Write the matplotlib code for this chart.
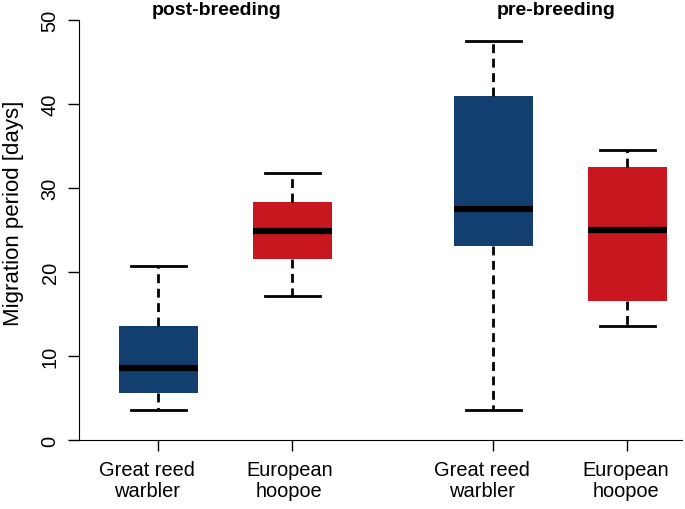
import matplotlib
matplotlib.use("Agg")
import matplotlib.pyplot as plt

plt.rcParams['font.family'] = ['Liberation Sans', 'DejaVu Sans']

labels = ["Great reed\nwarbler", "European\nhoopoe", "Great reed\nwarbler", "European\nhoopoe"]
positions = [1, 2, 3.5, 4.5]
label_shift = [-0.08, -0.02, -0.08, -0.01]
colors = ["#123f70", "#c8171f", "#123f70", "#c8171f"]

whislo = [3.6, 17.1, 3.6, 13.6]
q1 = [5.6, 21.5, 23.1, 16.5]
med = [8.6, 24.9, 27.5, 25.0]
q3 = [13.6, 28.3, 41.0, 32.5]
whishi = [20.7, 31.8, 47.5, 34.5]

stats = []
for i in range(4):
    stats.append(dict(whislo=whislo[i], q1=q1[i], med=med[i], q3=q3[i],
                      whishi=whishi[i], fliers=[]))

fig = plt.figure(figsize=(6.85, 5.1), dpi=100)
ax = fig.add_axes([0.1153, 0.1353, 0.8803, 0.8235])

bp = ax.bxp(stats, positions=positions, widths=0.59, patch_artist=True,
            showfliers=False,
            whiskerprops=dict(linestyle=(0, (3.2, 2)), linewidth=2, color="black"),
            capprops=dict(linewidth=2, color="black"),
            medianprops=dict(linewidth=4.5, color="black", solid_capstyle="butt"),
            boxprops=dict(linewidth=0))
for cap in bp['caps']:
    x0, x1 = cap.get_xdata()
    c = (x0 + x1) / 2
    cap.set_xdata([c - 0.205, c + 0.205])
for patch, col in zip(bp['boxes'], colors):
    patch.set_facecolor(col)
    patch.set_edgecolor(col)

ax.set_xlim(0.41, 4.91)
ax.set_ylim(0, 50)
ax.set_xticks(positions)
ax.set_xticklabels([])
for p, s, lab in zip(positions, label_shift, labels):
    ax.text(p + s, -2.35, lab, ha="center", va="top", fontsize=14.4, linespacing=1.15)
ax.set_yticks([0, 10, 20, 30, 40, 50])
ax.set_yticklabels(["0", "10", "20", "30", "40", "50"], rotation=90, va="center", fontsize=14.4)
ax.tick_params(axis='both', length=8, width=1, direction='out', pad=7)
ax.tick_params(axis='y', pad=6)
ax.spines['top'].set_visible(False)
ax.spines['right'].set_visible(False)
ax.set_ylabel("Migration period [days]", fontsize=16)
ax.yaxis.set_label_coords(-0.092, 0.543)

ax.text(1.44, 51.25, "post-breeding", ha="center", va="center", fontsize=14, fontweight="bold")
ax.text(3.97, 51.25, "pre-breeding", ha="center", va="center", fontsize=14, fontweight="bold")

fig.savefig("out.png", dpi=100)
